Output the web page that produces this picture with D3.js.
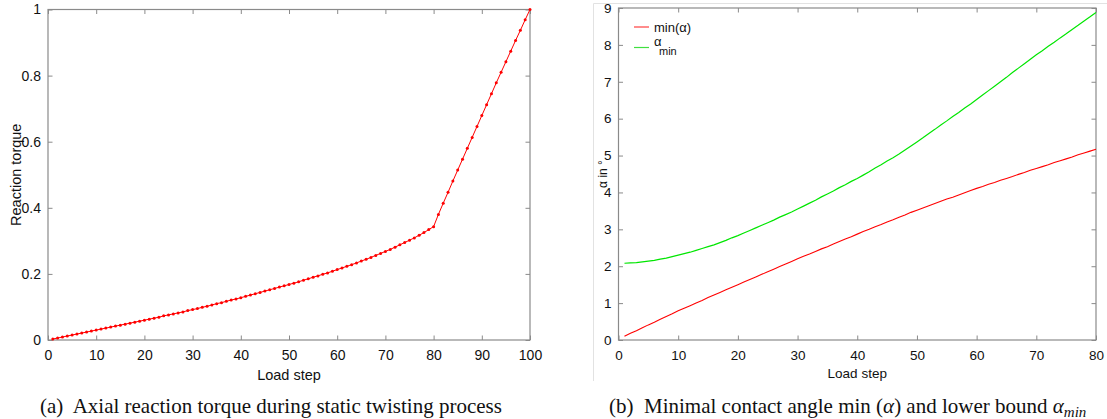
<!DOCTYPE html>
<html><head><meta charset="utf-8">
<script src="https://cdn.jsdelivr.net/npm/d3@7"></script>
<style>
body{margin:0;background:#fff;}
svg{display:block;}
</style>
</head><body>
<svg id="c" width="1107" height="419"></svg>
<script>
// ---- Panel (a): axial reaction torque, load steps 1..100
const stepsA = d3.range(1, 101);
const torque = [
0.003,0.006,0.009,0.012,0.015,0.018,0.021,0.024,0.027,0.030,
0.033,0.036,0.039,0.042,0.045,0.048,0.051,0.054,0.057,0.060,
0.063,0.066,0.069,0.073,0.076,0.079,0.082,0.085,0.089,0.092,
0.095,0.099,0.102,0.106,0.110,0.113,0.117,0.121,0.124,0.128,
0.132,0.136,0.140,0.144,0.148,0.152,0.156,0.160,0.164,0.168,
0.172,0.176,0.181,0.185,0.190,0.194,0.199,0.203,0.208,0.213,
0.218,0.223,0.228,0.233,0.239,0.244,0.250,0.256,0.262,0.268,
0.274,0.281,0.288,0.295,0.302,0.309,0.317,0.325,0.334,0.343,
0.380,0.414,0.447,0.481,0.514,0.547,0.580,0.613,0.646,0.679,
0.712,0.745,0.778,0.810,0.842,0.874,0.906,0.937,0.969,1.000];
const xTicksA = [0,10,20,30,40,50,60,70,80,90,100];
const yTicksA = [0,0.2,0.4,0.6,0.8,1];

// ---- Panel (b): contact angles, load steps 1..80
const stepsB = d3.range(1, 81);
const minAlpha = [
0.10,0.18,0.25,0.33,0.41,0.48,0.56,0.64,0.71,0.79,
0.86,0.93,1.00,1.07,1.15,1.22,1.29,1.36,1.43,1.50,
1.57,1.64,1.71,1.78,1.85,1.92,1.99,2.06,2.13,2.20,
2.27,2.33,2.40,2.47,2.53,2.60,2.67,2.74,2.80,2.87,
2.94,3.00,3.07,3.13,3.20,3.26,3.33,3.39,3.46,3.52,
3.58,3.64,3.70,3.76,3.82,3.87,3.93,3.99,4.05,4.11,
4.16,4.22,4.27,4.33,4.38,4.43,4.49,4.54,4.60,4.65,
4.70,4.75,4.81,4.86,4.91,4.96,5.02,5.07,5.12,5.17];
const alphaMinBound = [
2.08,2.09,2.10,2.12,2.14,2.16,2.19,2.22,2.26,2.30,
2.34,2.38,2.43,2.48,2.53,2.58,2.64,2.70,2.77,2.83,
2.90,2.97,3.04,3.11,3.18,3.25,3.33,3.40,3.47,3.55,
3.63,3.71,3.79,3.88,3.96,4.04,4.13,4.21,4.30,4.38,
4.47,4.56,4.66,4.75,4.85,4.94,5.04,5.15,5.26,5.37,
5.48,5.60,5.71,5.83,5.94,6.06,6.17,6.29,6.40,6.52,
6.64,6.76,6.88,7.00,7.12,7.25,7.37,7.49,7.61,7.73,
7.84,7.96,8.07,8.19,8.30,8.42,8.53,8.65,8.76,8.88];
const xTicksB = [0,10,20,30,40,50,60,70,80];
const yTicksB = [0,1,2,3,4,5,6,7,8,9];

const svg = d3.select("#c");
const FRAME = "#8a8a8a";
const SANS = '"Liberation Sans",Arial,Helvetica,sans-serif';
const SERIF = '"Liberation Serif","Times New Roman",serif';

// light box around panel (b)
svg.append("line").attr("x1",593.5).attr("x2",593.5).attr("y1",3.5).attr("y2",381).attr("stroke","#e2e2e2");
svg.append("line").attr("x1",593.5).attr("x2",1107).attr("y1",3.5).attr("y2",3.5).attr("stroke","#e2e2e2");

function panel(o){
  const g = svg.append("g");
  const x = d3.scaleLinear().domain(o.xd).range([o.l, o.r]);
  const y = d3.scaleLinear().domain(o.yd).range([o.b, o.t]);
  const tl = 4.5;
  const styleAxis = sel => { sel.select(".domain").remove(); sel.selectAll(".tick line").attr("stroke",FRAME); };
  g.append("g").attr("transform",`translate(0,${o.b})`)
    .call(d3.axisBottom(x).tickValues(o.xt).tickSize(-tl).tickPadding(10).tickFormat(d3.format("")))
    .call(styleAxis).call(s=>s.selectAll("text").attr("dy","0.71em"));
  g.append("g").attr("transform",`translate(0,${o.t})`)
    .call(d3.axisTop(x).tickValues(o.xt).tickSize(-tl).tickFormat(""))
    .call(styleAxis);
  g.append("g").attr("transform",`translate(${o.l},0)`)
    .call(d3.axisLeft(y).tickValues(o.yt).tickSize(-tl).tickPadding(7).tickFormat(d3.format("")))
    .call(styleAxis);
  g.append("g").attr("transform",`translate(${o.r},0)`)
    .call(d3.axisRight(y).tickValues(o.yt).tickSize(-tl).tickFormat(""))
    .call(styleAxis);
  g.append("rect").attr("x",o.l).attr("y",o.t).attr("width",o.r-o.l).attr("height",o.b-o.t)
    .attr("fill","none").attr("stroke",FRAME).attr("stroke-width",1.2);
  g.selectAll(".tick text").style("font-family",SANS).style("font-size",o.fs).attr("fill","#111");
  return {g,x,y};
}

// Panel (a)
const A = panel({l:48, r:530, t:9.5, b:340, xd:[0,100], yd:[0,1], xt:xTicksA, yt:yTicksA, fs:"14px"});
const lineA = d3.line().x((d,i)=>A.x(stepsA[i])).y(d=>A.y(d));
A.g.append("path").datum(torque).attr("d",lineA).attr("fill","none").attr("stroke","#ff0000").attr("stroke-width",1);
A.g.selectAll("circle.m").data(torque).join("circle").attr("class","m")
  .attr("cx",(d,i)=>A.x(stepsA[i])).attr("cy",d=>A.y(d)).attr("r",1.5).attr("fill","#ff0000");
A.g.append("text").attr("x",A.x(50)).attr("y",380).attr("text-anchor","middle")
  .style("font-family",SANS).style("font-size","14.5px").attr("fill","#111").text("Load step");
A.g.append("text").attr("transform",`translate(21,${(9.5+340)/2}) rotate(-90)`).attr("text-anchor","middle")
  .style("font-family",SANS).style("font-size","14.5px").attr("fill","#111").text("Reaction torque");
svg.append("text").attr("x",40).attr("y",413)
  .style("font-family",SERIF).style("font-size","21px").attr("fill","#111")
  .attr("xml:space","preserve").text("(a)  Axial reaction torque during static twisting process");

// Panel (b)
const B = panel({l:618.5, r:1096, t:8, b:340, xd:[0,80], yd:[0,9], xt:xTicksB, yt:yTicksB, fs:"13.5px"});
const lineB = d3.line().x((d,i)=>B.x(stepsB[i])).y(d=>B.y(d));
B.g.append("path").datum(minAlpha).attr("d",lineB).attr("fill","none").attr("stroke","#ff0000").attr("stroke-width",1.1);
B.g.append("path").datum(alphaMinBound).attr("d",lineB).attr("fill","none").attr("stroke","#00e600").attr("stroke-width",1.2);
B.g.append("text").attr("x",B.x(40)).attr("y",378).attr("text-anchor","middle")
  .style("font-family",SANS).style("font-size","13.5px").attr("fill","#111").text("Load step");
B.g.append("text").attr("transform",`translate(607,${(8+340)/2}) rotate(-90)`).attr("text-anchor","middle")
  .style("font-family",SANS).style("font-size","12px").attr("fill","#111").text("α in °");
// legend
B.g.append("line").attr("x1",634).attr("x2",649).attr("y1",27).attr("y2",27).attr("stroke","#ff4040").attr("stroke-width",1.2);
B.g.append("text").attr("x",654).attr("y",32).style("font-family",SANS).style("font-size","13px").attr("fill","#111").text("min(α)");
B.g.append("line").attr("x1",634).attr("x2",649).attr("y1",47.5).attr("y2",47.5).attr("stroke","#40e040").attr("stroke-width",1.2);
const lt = B.g.append("text").attr("x",654).attr("y",46).style("font-family",SANS).style("font-size","13px").attr("fill","#111");
lt.append("tspan").text("α");
lt.append("tspan").attr("x",659).attr("y",55).style("font-size","11px").text("min");
const cap = svg.append("text").attr("x",609).attr("y",413)
  .style("font-family",SERIF).style("font-size","21px").attr("fill","#111").attr("xml:space","preserve");
cap.append("tspan").text("(b)  Minimal contact angle min (");
cap.append("tspan").style("font-style","italic").text("α");
cap.append("tspan").text(") and lower bound ");
cap.append("tspan").style("font-style","italic").text("α");
cap.append("tspan").style("font-style","italic").style("font-size","15px").attr("dy",4).text("min");
</script>
</body></html>
